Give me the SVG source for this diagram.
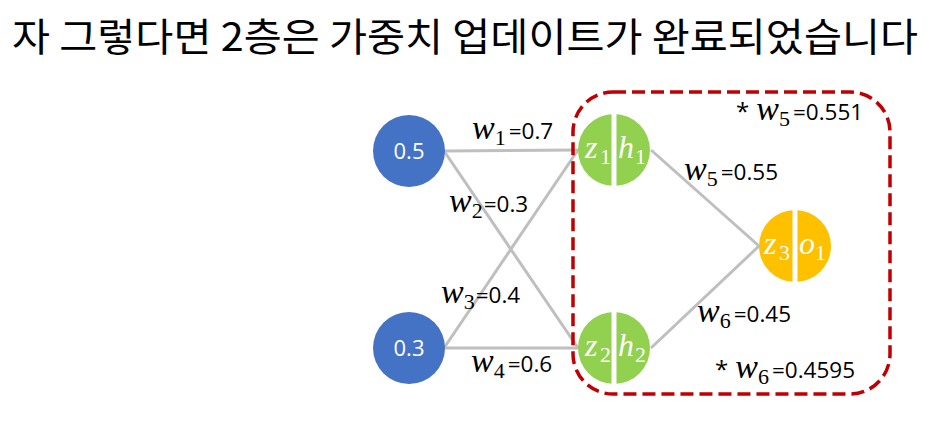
<svg xmlns="http://www.w3.org/2000/svg" width="930" height="422" viewBox="0 0 930 422">
<style>
.title{font-family:"Noto Sans CJK KR","Noto Sans",sans-serif;font-size:39px;fill:#000}
.edge{stroke:#bfbfbf;stroke-width:3;fill:none}
.lbl{font-family:"Liberation Serif",serif;fill:#000}
.w{font-style:italic;font-size:34px}
.sub{font-size:22px}
.num{font-family:"Open Sans","Noto Sans",sans-serif;font-size:22.5px}
.star{font-family:"Open Sans","Noto Sans",sans-serif;font-size:24px}
.in{fill:#4472c4}
.hid{fill:#92d050}
.out{fill:#ffc000}
.split{stroke:#fff;stroke-width:5}
.ntxt{font-family:"Open Sans","Noto Sans",sans-serif;font-size:22px;fill:#fff;text-anchor:middle}
.var{font-family:"Liberation Serif",serif;font-style:italic;font-size:32px;fill:#fff}
.vsub{font-family:"Liberation Serif",serif;font-size:22px;fill:#fff}
.box{fill:none;stroke:#c00000;stroke-width:3.5;stroke-dasharray:13 6}
</style>
<text class="title" x="12" y="51" textLength="906" lengthAdjust="spacingAndGlyphs">자 그렇다면 2층은 가중치 업데이트가 완료되었습니다</text>
<g id="connectors">
<line class="edge" x1="444" y1="151" x2="578" y2="150"/>
<line class="edge" x1="444" y1="151" x2="578" y2="348"/>
<line class="edge" x1="444" y1="348" x2="578" y2="150"/>
<line class="edge" x1="444" y1="348" x2="578" y2="348"/>
<line class="edge" x1="651" y1="150" x2="759" y2="246"/>
<line class="edge" x1="651" y1="348" x2="759" y2="246"/>
</g>
<g id="box">
<rect class="box" x="573" y="92" width="317" height="302" rx="40" ry="40"/>
</g>
<g id="labels">
<text class="lbl" x="472" y="139"><tspan class="w">w</tspan><tspan class="sub" dy="6">1</tspan><tspan class="num" dy="-6" dx="3">=0.7</tspan></text>
<text class="lbl" x="449" y="212"><tspan class="w">w</tspan><tspan class="sub" dy="6">2</tspan><tspan class="num" dy="-6" dx="1">=0.3</tspan></text>
<text class="lbl" x="441" y="303"><tspan class="w">w</tspan><tspan class="sub" dy="6">3</tspan><tspan class="num" dy="-6" dx="1">=0.4</tspan></text>
<text class="lbl" x="471" y="372"><tspan class="w">w</tspan><tspan class="sub" dy="6">4</tspan><tspan class="num" dy="-6" dx="3">=0.6</tspan></text>
<text class="lbl" x="684" y="180"><tspan class="w">w</tspan><tspan class="sub" dy="6">5</tspan><tspan class="num" dy="-6" dx="3">=0.55</tspan></text>
<text class="lbl" x="697" y="322"><tspan class="w">w</tspan><tspan class="sub" dy="6">6</tspan><tspan class="num" dy="-6" dx="3">=0.45</tspan></text>
<text class="lbl" x="736" y="120"><tspan class="star">*</tspan><tspan class="w" dx="7">w</tspan><tspan class="sub" dy="6">5</tspan><tspan class="num" dy="-6" dx="3">=0.551</tspan></text>
<text class="lbl" x="715" y="378"><tspan class="star">*</tspan><tspan class="w" dx="7">w</tspan><tspan class="sub" dy="6">6</tspan><tspan class="num" dy="-6" dx="3">=0.4595</tspan></text>
</g>
<g id="node-x1">
<circle class="in" cx="409" cy="151" r="36"/>
<text class="ntxt" x="409" y="159">0.5</text>
</g>
<g id="node-x2">
<circle class="in" cx="409" cy="348" r="36"/>
<text class="ntxt" x="409" y="356">0.3</text>
</g>
<g id="node-h1">
<circle class="hid" cx="614" cy="150" r="36"/>
<line class="split" x1="614" y1="114" x2="614" y2="186"/>
<text class="var" x="585" y="158">z</text><text class="vsub" x="600" y="164">1</text>
<text class="var" x="618" y="158">h</text><text class="vsub" x="635" y="164">1</text>
</g>
<g id="node-h2">
<circle class="hid" cx="614" cy="348" r="36"/>
<line class="split" x1="614" y1="312" x2="614" y2="384"/>
<text class="var" x="585" y="356">z</text><text class="vsub" x="600" y="362">2</text>
<text class="var" x="618" y="356">h</text><text class="vsub" x="635" y="362">2</text>
</g>
<g id="node-o1">
<circle class="out" cx="795" cy="246" r="36"/>
<line class="split" x1="795" y1="210" x2="795" y2="282"/>
<text class="var" x="764" y="254">z</text><text class="vsub" x="779" y="260">3</text>
<text class="var" x="799" y="254">o</text><text class="vsub" x="815" y="260">1</text>
</g>
</svg>
